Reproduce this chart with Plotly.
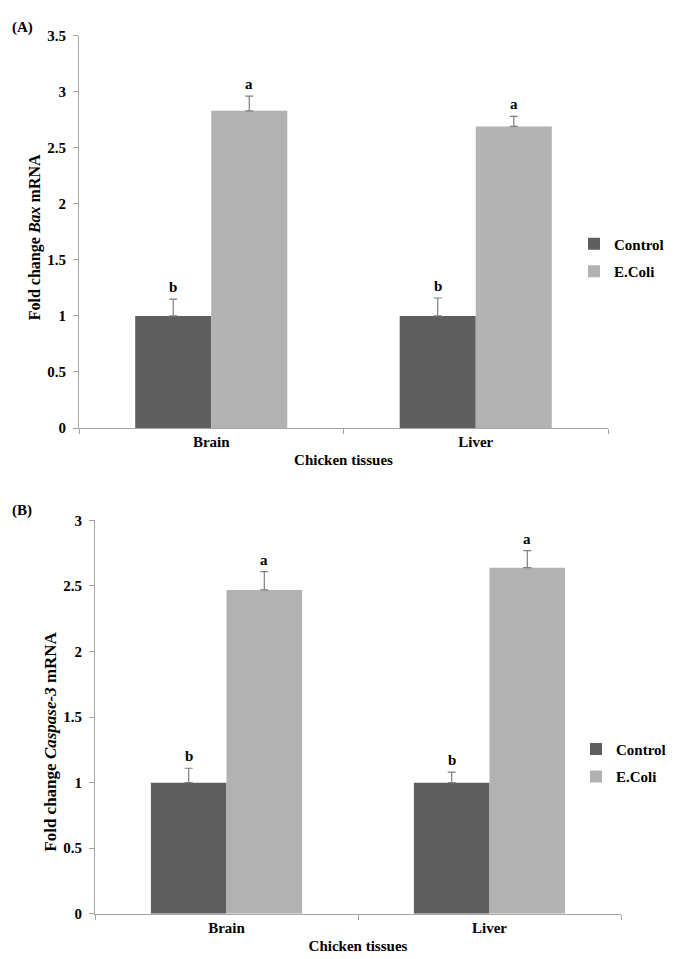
import plotly.graph_objects as go

# ---------------- data ----------------
tissues = ["Brain", "Liver"]
series_names = ["Control", "E.Coli"]

bax_control = [1.0, 1.0]
bax_control_err = [0.15, 0.16]
bax_ecoli = [2.83, 2.69]
bax_ecoli_err = [0.13, 0.09]

casp_control = [1.0, 1.0]
casp_control_err = [0.11, 0.08]
casp_ecoli = [2.47, 2.64]
casp_ecoli_err = [0.14, 0.13]

control_letters = ["b", "b"]
ecoli_letters = ["a", "a"]

bax_ticks = [0, 0.5, 1, 1.5, 2, 2.5, 3, 3.5]
casp_ticks = [0, 0.5, 1, 1.5, 2, 2.5, 3]

# ---------------- style ----------------
W, H = 679, 959
C_CTRL = "#5f5f5f"
C_ECOLI = "#b2b2b2"
AXC = "#a6a6a6"
ERRC = "#7f7f7f"
FONT = "Liberation Serif"
BARGAP = 0.425


def px_x(p):
    return p / W


def px_y(p):
    return 1 - p / H


fig = go.Figure()


def add_panel(xa, ya, ctrl, ctrl_err, eco, eco_err, legend):
    fig.add_trace(go.Bar(
        x=tissues, y=ctrl, name=series_names[0], marker_color=C_CTRL,
        marker_line_width=0,
        xaxis=xa, yaxis=ya, legend=legend, legendgroup=legend + "c",
        offsetgroup="c",
        error_y=dict(type="data", array=ctrl_err, arrayminus=[0] * len(ctrl),
                     symmetric=False, color=ERRC, thickness=1.2, width=4),
    ))
    fig.add_trace(go.Bar(
        x=tissues, y=eco, name=series_names[1], marker_color=C_ECOLI,
        marker_line_width=0,
        xaxis=xa, yaxis=ya, legend=legend, legendgroup=legend + "e",
        offsetgroup="e",
        error_y=dict(type="data", array=eco_err, arrayminus=[0] * len(eco),
                     symmetric=False, color=ERRC, thickness=1.2, width=4),
    ))
    bw = (1 - BARGAP) / 2
    xref = "x" if xa == "x" else "x2"
    yref = "y" if ya == "y" else "y2"
    for i in range(len(tissues)):
        for off, vals, errs, letters in ((-bw / 2, ctrl, ctrl_err, control_letters),
                                         (bw / 2, eco, eco_err, ecoli_letters)):
            fig.add_annotation(
                x=i + off, y=vals[i] + errs[i], xref=xref, yref=yref,
                text="<b>" + letters[i] + "</b>", showarrow=False,
                xanchor="center", yanchor="bottom", yshift=2,
                font=dict(family=FONT, size=15, color="black"),
            )


add_panel("x", "y", bax_control, bax_control_err, bax_ecoli, bax_ecoli_err, "legend")
add_panel("x2", "y2", casp_control, casp_control_err, casp_ecoli, casp_ecoli_err, "legend2")

tickfont = dict(family=FONT, size=15, color="black", weight="bold")


def xaxis_cfg(dom, anchor, standoff):
    return dict(
        domain=dom, anchor=anchor, type="category", tickson="boundaries",
        ticks="outside", ticklen=5, tickcolor=AXC, showline=True, linecolor=AXC,
        linewidth=1, showgrid=False, zeroline=False, tickfont=tickfont,
        title=dict(text="<b>Chicken tissues</b>", standoff=standoff,
                   font=dict(family=FONT, size=15, color="black")),
        fixedrange=True,
    )


def yaxis_cfg(dom, anchor, rng, ticks):
    return dict(
        domain=dom, anchor=anchor, range=rng, tickvals=ticks,
        ticktext=[("%g" % t) for t in ticks],
        ticks="outside", ticklen=5, tickcolor=AXC, showline=True, linecolor=AXC,
        linewidth=1, showgrid=False, zeroline=False, tickfont=tickfont,
        ticklabelstandoff=4, fixedrange=True,
    )


legend_font = dict(family=FONT, size=15, color="black", weight="bold")

fig.update_layout(
    width=W, height=H, autosize=False,
    margin=dict(l=0, r=0, t=0, b=0),
    paper_bgcolor="white", plot_bgcolor="white",
    barmode="group", bargap=BARGAP, bargroupgap=0,
    xaxis=xaxis_cfg([px_x(71), px_x(600)], "y", 5),
    yaxis=yaxis_cfg([px_y(419), px_y(20)], "x", [0, 3.5], bax_ticks),
    xaxis2=xaxis_cfg([px_x(87), px_x(613)], "y2", 5),
    yaxis2=yaxis_cfg([px_y(913), px_y(513)], "x2", [0, 3], casp_ticks),
    legend=dict(x=px_x(566), y=px_y(215), xanchor="left", yanchor="top",
                font=legend_font, bgcolor="rgba(0,0,0,0)", itemwidth=30,
                tracegroupgap=5),
    legend2=dict(x=px_x(568), y=px_y(729), xanchor="left", yanchor="top",
                 font=legend_font, bgcolor="rgba(0,0,0,0)", itemwidth=30,
                 tracegroupgap=5),
    showlegend=True,
)

# panel labels and y-axis titles
fig.add_annotation(x=px_x(2), y=px_y(1), xref="paper", yref="paper",
                   text="<b>(A)</b>", showarrow=False, xanchor="left", yanchor="top",
                   font=dict(family=FONT, size=15, color="black"))
fig.add_annotation(x=px_x(2), y=px_y(492), xref="paper", yref="paper",
                   text="<b>(B)</b>", showarrow=False, xanchor="left", yanchor="top",
                   font=dict(family=FONT, size=15, color="black"))
fig.add_annotation(x=px_x(27), y=px_y(225), xref="paper", yref="paper",
                   text="<b>Fold change <i>Bax</i> mRNA</b>", showarrow=False,
                   xanchor="center", yanchor="middle",
                   textangle=-90, font=dict(family=FONT, size=16, color="black"))
fig.add_annotation(x=px_x(43), y=px_y(738), xref="paper", yref="paper",
                   text="<b>Fold change <i>Caspase-3</i> mRNA</b>", showarrow=False,
                   xanchor="center", yanchor="middle",
                   textangle=-90, font=dict(family=FONT, size=17, color="black"))

fig.write_html("out.html")
